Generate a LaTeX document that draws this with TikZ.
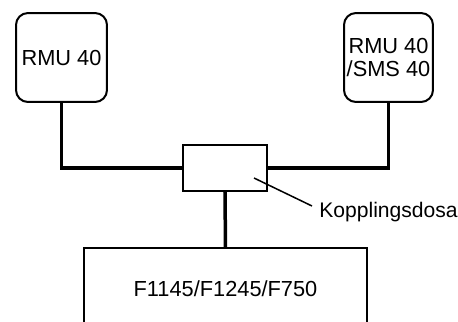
\documentclass[tikz,border=0pt]{standalone}
\usepackage{fontspec}
\setmainfont{Liberation Sans}
\begin{document}
\begin{tikzpicture}[
                x=0.02cm, y=-0.02cm,
                every node/.style={font=\fontsize{12.4}{12.6}\selectfont},
                unitbox/.style={rectangle, rounded corners=0.24cm, draw=black, line width=0.04cm, align=center, inner sep=0pt},
                dosabox/.style={rectangle, draw=black, line width=0.04cm, minimum width=1.68cm, minimum height=0.92cm},
                pumpbox/.style={rectangle, draw=black, line width=0.04cm, minimum width=5.66cm, minimum height=1.64cm},
                cable/.style={draw=black, line width=0.07cm},
                leader/.style={draw=black, line width=0.03cm}
            ]
                \clip (0,0) rectangle (458,322);
                \useasboundingbox (0,0) rectangle (458,322);

                % Control units
                \node[unitbox, minimum width=1.82cm, minimum height=1.78cm] (rmu) at (61.5,57.5) {RMU 40};
                \node[unitbox, minimum width=1.78cm, minimum height=1.78cm] (rmusms) at (388.5,57.5) {RMU 40\\/SMS 40};

                % Junction box and heat pump
                \node[dosabox] (dosa) at (225,168) {};
                \node[pumpbox] (pump) at (225.5,289) {F1145/F1245/F750};

                % Cables
                \draw[cable] (rmu.south) |- (dosa.west);
                \draw[cable] (rmusms.south) |- (dosa.east);
                \draw[cable] (dosa.south) -- (pump.north);

                % Label with leader line
                \node[anchor=west, inner sep=0pt, font=\fontsize{12}{12}\selectfont] (kopp) at (319,212) {Kopplingsdosa};
                \coordinate (tap) at (254,178);
                \coordinate (tip) at (312,206);
                \draw[leader] (tap) -- (tip);
            \end{tikzpicture}
\end{document}
